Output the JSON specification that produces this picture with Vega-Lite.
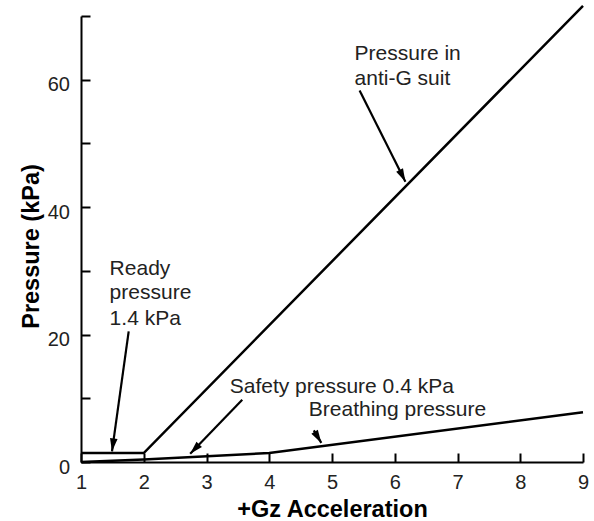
{
  "$schema": "https://vega.github.io/schema/vega-lite/v6.json",
  "width": 502,
  "height": 446,
  "autosize": {"type": "none"},
  "padding": {"left": 81, "top": 16, "right": 11, "bottom": 59},
  "config": {
    "view": {"stroke": null},
    "font": "Liberation Sans",
    "axis": {
      "grid": false,
      "domainColor": "black",
      "domainWidth": 2,
      "tickColor": "black",
      "tickWidth": 2,
      "tickSize": -9,
      "labelFontSize": 20,
      "labelColor": "#222222",
      "labelFlush": false,
      "titleFontSize": 23.5,
      "titleFontWeight": "bold",
      "titleColor": "black"
    }
  },
  "encoding": {
    "x": {
      "field": "g",
      "type": "quantitative",
      "scale": {"domain": [1, 9], "nice": false, "zero": false},
      "axis": {
        "title": "+Gz Acceleration",
        "values": [1, 2, 3, 4, 5, 6, 7, 8, 9],
        "labelPadding": 19,
        "titleY": 54.5,
        "titleBaseline": "alphabetic"
      }
    },
    "y": {
      "field": "p",
      "type": "quantitative",
      "scale": {"domain": [0, 70], "nice": false},
      "axis": {
        "title": "Pressure (kPa)",
        "values": [0, 10, 20, 30, 40, 50, 60, 70],
        "labelExpr": "datum.value % 20 === 0 && datum.value < 70 ? datum.label : ''",
        "labelPadding": 20.5,
        "labelOffset": 5,
        "titleX": -50,
        "titleY": 230,
        "titleAngle": -90,
        "titleAlign": "center",
        "titleBaseline": "middle"
      }
    }
  },
  "layer": [
    {
      "data": {
        "values": [
          {"series": "suit", "g": 1, "p": 1.4},
          {"series": "suit", "g": 2, "p": 1.4},
          {"series": "suit", "g": 9, "p": 71.6},
          {"series": "breathing", "g": 1, "p": 0},
          {"series": "breathing", "g": 2, "p": 0.4},
          {"series": "breathing", "g": 4, "p": 1.4},
          {"series": "breathing", "g": 9, "p": 7.8}
        ]
      },
      "mark": {"type": "line", "color": "black", "strokeWidth": 2.5},
      "encoding": {"detail": {"field": "series"}}
    },
    {
      "data": {
        "values": [
          {"g": 6.17, "p": 44.0, "g2": 5.44, "p2": 58.3},
          {"g": 1.494, "p": 1.66, "g2": 1.76, "p2": 20.5},
          {"g": 2.74, "p": 1.3, "g2": 3.57, "p2": 9.78},
          {"g": 4.83, "p": 3.0, "g2": 4.71, "p2": 4.96}
        ]
      },
      "mark": {"type": "rule", "color": "black", "strokeWidth": 2.2},
      "encoding": {"x2": {"field": "g2"}, "y2": {"field": "p2"}}
    },
    {
      "data": {
        "values": [
          {"g": 6.17, "p": 44.0, "g2": 5.44, "p2": 58.3},
          {"g": 1.494, "p": 1.66, "g2": 1.76, "p2": 20.5},
          {"g": 2.74, "p": 1.3, "g2": 3.57, "p2": 9.78},
          {"g": 4.83, "p": 3.0, "g2": 4.71, "p2": 4.96}
        ]
      },
      "transform": [
        {"calculate": "atan2((datum.g - datum.g2) * 62.75, (datum.p - datum.p2) * 6.371) * 180 / PI", "as": "angle"}
      ],
      "mark": {"type": "point", "shape": "M0,0L0.38,1.3L-0.38,1.3Z", "filled": true, "color": "black", "opacity": 1, "size": 400},
      "encoding": {"angle": {"field": "angle", "type": "quantitative", "scale": null}}
    },
    {
      "data": {
        "values": [
          {"g": 5.36, "p": 63.1, "label": "Pressure in"},
          {"g": 5.36, "p": 59.2, "label": "anti-G suit"},
          {"g": 1.456, "p": 29.3, "label": "Ready"},
          {"g": 1.456, "p": 25.6, "label": "pressure"},
          {"g": 1.456, "p": 21.55, "label": "1.4 kPa"},
          {"g": 3.37, "p": 10.83, "label": "Safety pressure 0.4 kPa"},
          {"g": 4.63, "p": 7.16, "label": "Breathing pressure"}
        ]
      },
      "mark": {"type": "text", "align": "left", "baseline": "alphabetic", "fontSize": 21, "color": "#222222"},
      "encoding": {"text": {"field": "label"}}
    }
  ]
}
